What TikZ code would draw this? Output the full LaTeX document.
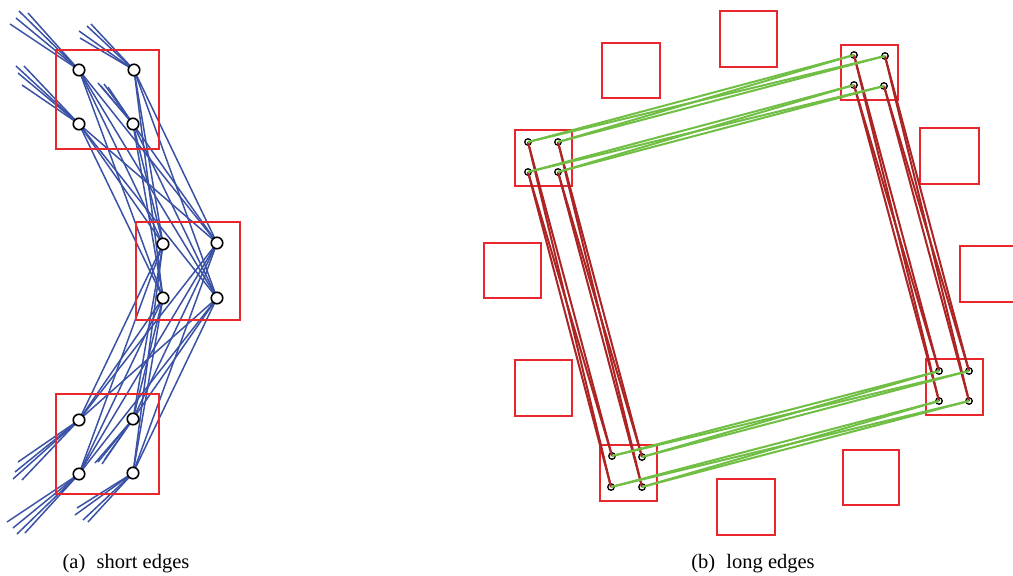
\documentclass[tikz,border=0pt]{standalone}
\usepackage{fontspec}
\setmainfont{Liberation Serif}
\definecolor{eblue}{RGB}{58,82,165}
\definecolor{egreen}{RGB}{112,190,68}
\definecolor{ered}{RGB}{172,36,36}
\definecolor{sqred}{RGB}{232,38,44}
\pgfdeclarelayer{bg}
\pgfsetlayers{bg,main}
\begin{document}
\begin{tikzpicture}[x=1pt,y=-1pt,
  sq/.style={draw=sqred,line width=1.6pt},
  bn/.style={circle,draw=black,fill=white,line width=1.6pt,minimum size=11.5pt,inner sep=0pt},
  sn/.style={circle,draw=black,fill=white,line width=1.3pt,minimum size=6.5pt,inner sep=0pt},
  be/.style={draw=eblue,line width=1.5pt},
  ge/.style={draw=egreen,line width=2pt},
  re/.style={draw=ered,line width=2pt},
  captext/.style={font=\fontsize{20.5}{24}\selectfont}]
\useasboundingbox (0,0) rectangle (1013,576);

% ---------- (a) short edges ----------
\draw[sq] (56,50) rectangle (159,149);
\draw[sq] (136,222) rectangle (240,320);
\draw[sq] (56,394) rectangle (159,494);

\node[bn] (a1) at (79,70) {};
\node[bn] (a2) at (134,70) {};
\node[bn] (a3) at (79,124) {};
\node[bn] (a4) at (133,124) {};
\node[bn] (m1) at (163,244) {};
\node[bn] (m2) at (217,243) {};
\node[bn] (m3) at (163,298) {};
\node[bn] (m4) at (217,298) {};
\node[bn] (b1) at (79,420) {};
\node[bn] (b2) at (133,419) {};
\node[bn] (b3) at (79,474) {};
\node[bn] (b4) at (133,473) {};

% fan ends
\foreach \n/\x/\y in {a1-1/10/24, a1-2/16/18, a1-3/19/11, a1-4/28/13,
                     a2-1/79/31, a2-2/80/38, a2-3/87/26, a2-4/91/24,
                     a3-1/16/66, a3-2/24/66, a3-3/18/73, a3-4/22/85,
                     a4-1/98/83, a4-2/108/87, a4-3/101/86, a4-4/104/84,
                     b1-1/18/462, b1-2/15/472, b1-3/13/479, b1-4/22/480,
                     b2-1/95/463, b2-2/105/459, b2-3/98/462, b2-4/102/464,
                     b3-1/7/522, b3-2/13/528, b3-3/17/534, b3-4/25/533,
                     b4-1/77/508, b4-2/75/515, b4-3/83/520, b4-4/88/522}
  \coordinate (f\n) at (\x,\y);

\begin{pgfonlayer}{bg}
\foreach \s in {a1,a2,a3,a4,b1,b2,b3,b4}
  \foreach \t in {m1,m2,m3,m4}
    \draw[be] (\s.center) -- (\t.center);
\foreach \s in {a1,a2,a3,a4,b1,b2,b3,b4}
  \foreach \k in {1,2,3,4}
    \draw[be] (\s.center) -- (f\s-\k);
\end{pgfonlayer}

% ---------- (b) long edges ----------
\draw[sq] (602,43) rectangle (660,98);
\draw[sq] (720,11) rectangle (777,67);
\draw[sq] (841,45) rectangle (898,100);
\draw[sq] (920,128) rectangle (979,184);
\draw[sq] (960,246) rectangle (1017,302);
\draw[sq] (926,359) rectangle (983,415);
\draw[sq] (843,450) rectangle (899,505);
\draw[sq] (717,479) rectangle (775,535);
\draw[sq] (600,445) rectangle (657,501);
\draw[sq] (515,360) rectangle (572,416);
\draw[sq] (484,243) rectangle (541,298);
\draw[sq] (515,130) rectangle (572,186);

\node[sn] (p1) at (528,142) {};
\node[sn] (p2) at (558,142) {};
\node[sn] (p3) at (528,172) {};
\node[sn] (p4) at (558,172) {};
\node[sn] (q1) at (854,55) {};
\node[sn] (q2) at (885,56) {};
\node[sn] (q3) at (854,85) {};
\node[sn] (q4) at (884,86) {};
\node[sn] (r1) at (939,371) {};
\node[sn] (r2) at (969,371) {};
\node[sn] (r3) at (939,401) {};
\node[sn] (r4) at (969,401) {};
\node[sn] (s1) at (612,456) {};
\node[sn] (s2) at (642,457) {};
\node[sn] (s3) at (611,487) {};
\node[sn] (s4) at (642,487) {};

% red (vertical) bundles: columns
\foreach \u/\v in {1/1,1/3,3/1,3/3,2/2,2/4,4/2,4/4} {
  \draw[re] (p\u.center) -- (s\v.center);
  \draw[re] (q\u.center) -- (r\v.center);
}
% green (horizontal) bundles: rows
\foreach \u/\v in {1/1,1/2,2/1,2/2,3/3,3/4,4/3,4/4} {
  \draw[ge] (p\u.center) -- (q\v.center);
  \draw[ge] (s\u.center) -- (r\v.center);
}

% captions
\node[captext] (capa) at (126,564) {(a)\hspace{0.55em}short edges};
\node[captext] (capb) at (753,564) {(b)\hspace{0.55em}long edges};
\end{tikzpicture}
\end{document}
